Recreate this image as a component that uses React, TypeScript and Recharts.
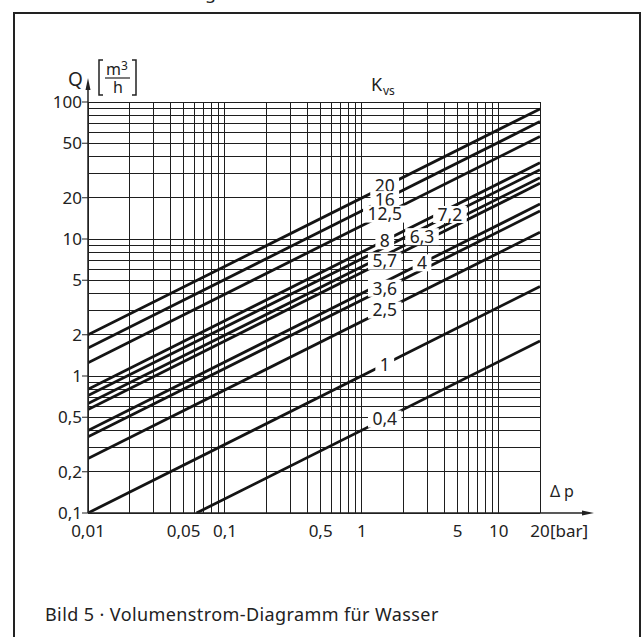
import { ComposedChart, Line, Scatter, XAxis, YAxis, ReferenceLine } from 'recharts';

// one entry per Kvs line
const kvsLabels = ['20', '16', '12,5', '8', '7,2', '6,3', '5,7', '4', '3,6', '2,5', '1', '0,4'];
const dpStart = [0.01, 0.01, 0.01, 0.01, 0.01, 0.01, 0.01, 0.01, 0.01, 0.01, 0.01, 0.062];
const qStart = [2, 1.6, 1.25, 0.8, 0.72, 0.63, 0.57, 0.4, 0.36, 0.25, 0.1, 0.1];
const dpEnd = [20, 20, 20, 20, 20, 20, 20, 20, 20, 20, 20, 20];
const qEnd = [89, 72, 56, 36, 32, 28, 25.5, 18, 16, 11.2, 4.5, 1.8];
const labelDp = [1.47, 1.47, 1.47, 1.47, 4.4, 2.75, 1.47, 2.75, 1.47, 1.47, 1.47, 1.47];
const labelQ = [24.3, 19.4, 15.2, 9.7, 15.1, 10.4, 6.9, 6.7, 4.37, 3.03, 1.21, 0.485];

const xTicks = [0.01, 0.05, 0.1, 0.5, 1, 5, 10, 20];
const yTicks = [0.1, 0.2, 0.5, 1, 2, 5, 10, 20, 50, 100];
const xGrid = [0.01, 0.02, 0.03, 0.04, 0.05, 0.06, 0.07, 0.08, 0.09, 0.1, 0.2, 0.3, 0.4, 0.5, 0.6, 0.7, 0.8, 0.9, 1, 2, 3, 4, 5, 6, 7, 8, 9, 10, 20];
const yGrid = [0.1, 0.2, 0.3, 0.4, 0.5, 0.6, 0.7, 0.8, 0.9, 1, 2, 3, 4, 5, 6, 7, 8, 9, 10, 20, 30, 40, 50, 60, 70, 80, 90, 100];

const FONT = '"Noto Sans", sans-serif';
const INK = '#222';
const GRID = '#1e1e1e';

const lines = kvsLabels.map((k, i) => ({
  name: k,
  points: [
    { dp: dpStart[i], q: qStart[i] },
    { dp: dpEnd[i], q: qEnd[i] },
  ],
}));

const labels = kvsLabels.map((k, i) => ({ dp: labelDp[i], q: labelQ[i], text: k }));

const fmt = (v: number) => String(v).replace('.', ',');

const XTick = ({ x, y, payload }: any) => {
  const v = payload.value;
  if (v === 20) {
    return (
      <g fontFamily={FONT} fontSize={17} fill={INK}>
        <text x={x} y={y + 24} textAnchor="middle">20</text>
        <text x={x + 10} y={y + 24} textAnchor="start">[bar]</text>
      </g>
    );
  }
  return (
    <text x={x} y={y + 24} textAnchor="middle" fontFamily={FONT} fontSize={17} fill={INK}>
      {fmt(v)}
    </text>
  );
};

const YTick = ({ x, y, payload }: any) => (
  <text x={x} y={y} dy="0.35em" textAnchor="end" fontFamily={FONT} fontSize={17} fill={INK}>
    {fmt(payload.value)}
  </text>
);

const LineLabel = ({ cx, cy, payload }: any) => {
  const t: string = payload.text;
  let w = 9;
  for (const c of t) w += c === ',' ? 5 : 9.8;
  return (
    <g>
      <rect x={cx - w / 2} y={cy - 8.5} width={w} height={17} fill="#fff" />
      <text x={cx} y={cy} dy="0.36em" textAnchor="middle" fontFamily={FONT} fontSize={17.5} fill={INK}>
        {t}
      </text>
    </g>
  );
};

export default function App() {
  return (
    <div style={{ position: 'absolute', left: 0, top: 0, width: 643, height: 637, overflow: 'hidden', background: '#fff' }}>
      <ComposedChart width={643} height={637} margin={{ top: 102, right: 103, bottom: 84, left: 28 }}>
        <XAxis
          dataKey="dp"
          type="number"
          scale="log"
          domain={[0.01, 20]}
          ticks={xTicks}
          allowDataOverflow
          height={40}
          tickLine={false}
          tickSize={0}
          tickMargin={0}
          axisLine={{ stroke: INK, strokeWidth: 1.5 }}
          tick={<XTick />}
        />
        <YAxis
          dataKey="q"
          type="number"
          scale="log"
          domain={[0.1, 100]}
          ticks={yTicks}
          allowDataOverflow
          width={60}
          tickSize={6}
          tickMargin={0}
          tickLine={{ stroke: INK, strokeWidth: 1 }}
          axisLine={{ stroke: INK, strokeWidth: 1.5 }}
          tick={<YTick />}
        />
        {xGrid.map((v) => (
          <ReferenceLine key={'x' + v} x={v} zIndex={-50} stroke={GRID} strokeWidth={1} shapeRendering="crispEdges" />
        ))}
        {yGrid.map((v) => (
          <ReferenceLine key={'y' + v} y={v} zIndex={-50} stroke={GRID} strokeWidth={1} shapeRendering="crispEdges" />
        ))}
        {lines.map((l) => (
          <Line
            key={l.name}
            data={l.points}
            dataKey="q"
            stroke="#141414"
            strokeWidth={2.8}
            dot={false}
            activeDot={false}
            isAnimationActive={false}
          />
        ))}
        <Scatter data={labels} dataKey="q" zIndex={2500} shape={<LineLabel />} isAnimationActive={false} />
      </ComposedChart>
      <svg width={643} height={637} style={{ position: 'absolute', left: 0, top: 0, pointerEvents: 'none' }}>
        <path d="M14,640 L14,13 L640,13 L640,640" fill="none" stroke={INK} strokeWidth={2} />
        <text x={205} y={-1} fontFamily={FONT} fontSize={18} fill={INK}>g</text>
        {/* axis arrows */}
        <line x1={88} y1={102} x2={88} y2={88} stroke={INK} strokeWidth={1.5} />
        <polygon points="85.5,90 90.5,90 88,78" fill={INK} />
        <line x1={540} y1={513} x2={584} y2={513} stroke={INK} strokeWidth={1.5} />
        <polygon points="582,510.5 582,515.5 594,513" fill={INK} />
        <text x={550} y={497} fontFamily={FONT} fontSize={16} fill={INK}>Δ</text>
        <text x={564} y={497} fontFamily={FONT} fontSize={16} fill={INK}>p</text>
        {/* Q [m3/h] */}
        <text x={68} y={86} fontFamily={FONT} fontSize={19} fill={INK}>Q</text>
        <path d="M103,60 L99,60 L99,95 L103,95" fill="none" stroke={INK} strokeWidth={1.5} />
        <path d="M132,60 L136,60 L136,95 L132,95" fill="none" stroke={INK} strokeWidth={1.5} />
        <text x={106} y={75} fontFamily={FONT} fontSize={16} fill={INK}>m</text>
        <text x={121} y={70} fontFamily={FONT} fontSize={12} fill={INK}>3</text>
        <line x1={105} y1={78} x2={130} y2={78} stroke={INK} strokeWidth={1.2} />
        <text x={118} y={93} textAnchor="middle" fontFamily={FONT} fontSize={16} fill={INK}>h</text>
        {/* Kvs */}
        <text x={371} y={91} fontFamily={FONT} fontSize={18} fill={INK}>K</text>
        <text x={383} y={95} fontFamily={FONT} fontSize={12} fill={INK}>vs</text>
        <text x={45} y={621} fontFamily={FONT} fontSize={18} letterSpacing={0.4} fill={INK}>
          Bild 5 · Volumenstrom-Diagramm für Wasser
        </text>
      </svg>
    </div>
  );
}
